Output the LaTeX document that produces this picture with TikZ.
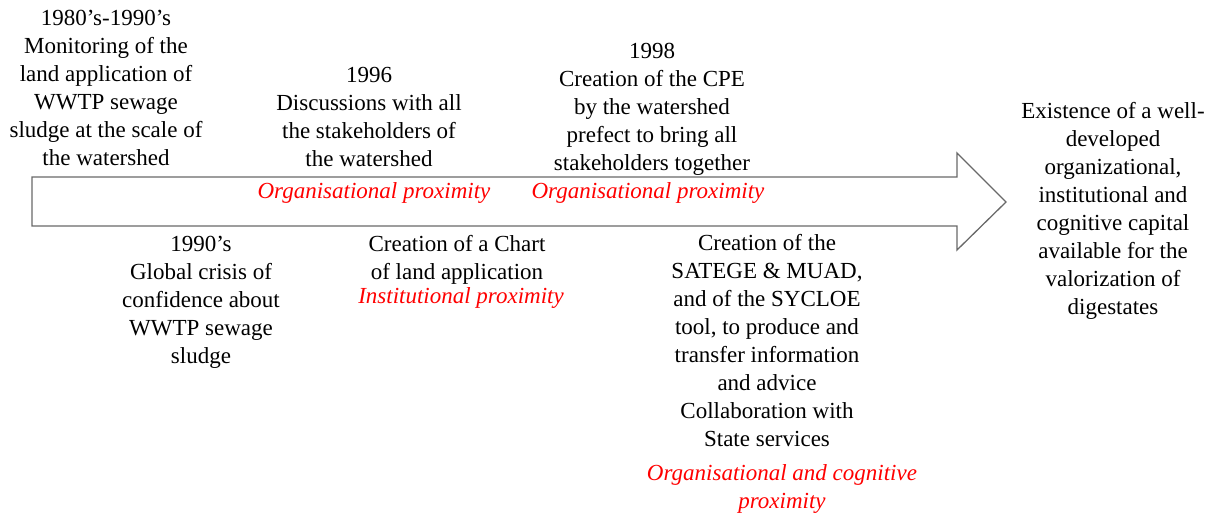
\documentclass[tikz,border=0pt]{standalone}
\usepackage{fontspec}
\setmainfont{Liberation Serif}
\definecolor{arrowgray}{RGB}{105,105,105}
\definecolor{proxred}{RGB}{255,0,0}
\begin{document}
\begin{tikzpicture}[x=1bp,y=-1bp,
  txt/.style={align=center,inner sep=0pt,font=\fontsize{23bp}{28bp}\selectfont,
    execute at begin node=\strut,execute at end node=\strut},
  prox/.style={txt,text=proxred,font=\fontsize{23bp}{28bp}\selectfont\itshape}]
\useasboundingbox (0,0) rectangle (1211,515);
\draw[arrowgray,line width=1.3bp,line join=miter]
  (32,177) -- (957,177) -- (957,153) -- (1006,202) -- (957,250) -- (957,226) -- (32,226) -- cycle;
\node[txt] (t1) at (106,92) {1980’s-1990’s\\Monitoring of the\\land application of\\WWTP sewage\\sludge at the scale of\\the watershed};
\node[txt] (t2) at (369,121.5) {1996\\Discussions with all\\the stakeholders of\\the watershed};
\node[txt] (t3) at (652,111.5) {1998\\Creation of the CPE\\by the watershed\\prefect to bring all\\stakeholders together};
\node[prox] (p1) at (374,192.5) {Organisational proximity};
\node[prox] (p2) at (648,192.5) {Organisational proximity};
\node[txt] (r) at (1113,213) {Existence of a well-\\developed\\organizational,\\institutional and\\cognitive capital\\available for the\\valorization of\\digestates};
\node[txt] (b1) at (201,304) {1990’s\\Global crisis of\\confidence about\\WWTP sewage\\sludge};
\node[txt] (b2) at (457,261.5) {Creation of a Chart\\of land application};
\node[prox] (p3) at (461,298) {Institutional proximity};
\node[txt] (b3) at (767,344.5) {Creation of the\\SATEGE \& MUAD,\\and of the SYCLOE\\tool, to produce and\\transfer information\\and advice\\Collaboration with\\State services};
\node[prox] (p4) at (782,490.5) {Organisational and cognitive\\proximity};
\end{tikzpicture}
\end{document}
